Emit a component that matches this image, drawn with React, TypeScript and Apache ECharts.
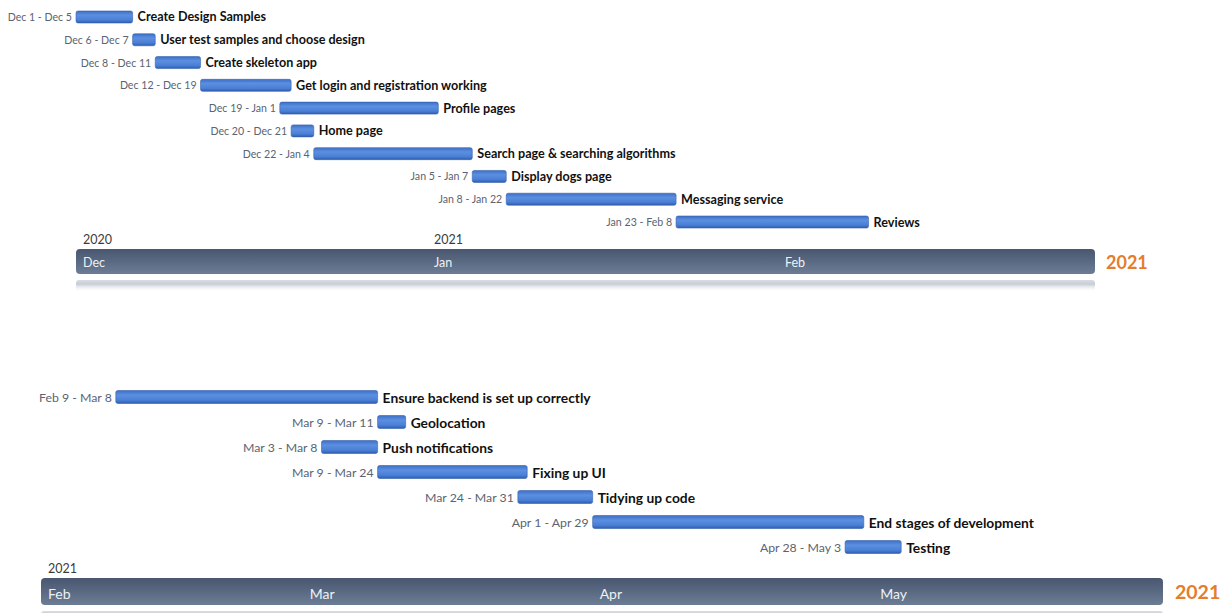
import React, { useEffect, useRef } from "react";
import * as echarts from "echarts";

// ---------- Data ----------
const topTasks = [
  "Create Design Samples",
  "User test samples and choose design",
  "Create skeleton app",
  "Get login and registration working",
  "Profile pages",
  "Home page",
  "Search page & searching algorithms",
  "Display dogs page",
  "Messaging service",
  "Reviews",
];
const topStarts = [
  "2020-12-01", "2020-12-06", "2020-12-08", "2020-12-12", "2020-12-19",
  "2020-12-20", "2020-12-22", "2021-01-05", "2021-01-08", "2021-01-23",
];
const topEnds = [
  "2020-12-05", "2020-12-07", "2020-12-11", "2020-12-19", "2021-01-01",
  "2020-12-21", "2021-01-04", "2021-01-07", "2021-01-22", "2021-02-08",
];
const topRange = ["2020-12-01", "2021-03-01"];
const topMonthTicks = ["2020-12-01", "2021-01-01", "2021-02-01"];
const topYearTicks = ["2020-12-01", "2021-01-01"];

const bottomTasks = [
  "Ensure backend is set up correctly",
  "Geolocation",
  "Push notifications",
  "Fixing up UI",
  "Tidying up code",
  "End stages of development",
  "Testing",
];
const bottomStarts = [
  "2021-02-09", "2021-03-09", "2021-03-03", "2021-03-09", "2021-03-24",
  "2021-04-01", "2021-04-28",
];
const bottomEnds = [
  "2021-03-08", "2021-03-11", "2021-03-08", "2021-03-24", "2021-03-31",
  "2021-04-29", "2021-05-03",
];
const bottomRange = ["2021-02-01", "2021-06-01"];
const bottomMonthTicks = ["2021-02-01", "2021-03-01", "2021-04-01", "2021-05-01"];
const bottomYearTicks = ["2021-02-01"];

const yearBadge = "2021";

// ---------- Helpers ----------
const MONTHS = ["Jan", "Feb", "Mar", "Apr", "May", "Jun", "Jul", "Aug", "Sep", "Oct", "Nov", "Dec"];
const ts = (s: string) => {
  const [y, m, d] = s.split("-").map(Number);
  return Date.UTC(y, m - 1, d);
};
const tsAfter = (s: string) => {
  const [y, m, d] = s.split("-").map(Number);
  return Date.UTC(y, m - 1, d + 1);
};
const short = (s: string) => {
  const [, m, d] = s.split("-").map(Number);
  return `${MONTHS[m - 1]} ${d}`;
};
const FONT = "Lato, 'Open Sans', sans-serif";

const barFill = new echarts.graphic.LinearGradient(0, 0, 0, 1, [
  { offset: 0, color: "#3e6fc6" },
  { offset: 0.35, color: "#5b8fe0" },
  { offset: 0.75, color: "#4a7fd6" },
  { offset: 1, color: "#2d5cae" },
]);
const bandFill = new echarts.graphic.LinearGradient(0, 0, 0, 1, [
  { offset: 0, color: "#49566f" },
  { offset: 1, color: "#6b7d95" },
]);
const reflFill = new echarts.graphic.LinearGradient(0, 0, 0, 1, [
  { offset: 0, color: "#d9dce2" },
  { offset: 0.35, color: "#c8cdd5" },
  { offset: 1, color: "rgba(255,255,255,0)" },
]);

function taskSeries(
  xIdx: number,
  yIdx: number,
  starts: string[],
  ends: string[],
  names: string[],
  barH: number,
  dateSize: number,
  nameSize: number
) {
  return {
    type: "custom",
    xAxisIndex: xIdx,
    yAxisIndex: yIdx,
    clip: false,
    z: 3,
    encode: { x: [1, 2], y: 0 },
    data: starts.map((s, i) => [i, ts(s), tsAfter(ends[i])]),
    renderItem: (params: any, api: any) => {
      const i = params.dataIndex;
      const idx = api.value(0);
      const p0 = api.coord([api.value(1), idx]);
      const p1 = api.coord([api.value(2), idx]);
      return {
        type: "group",
        children: [
          {
            type: "rect",
            shape: { x: p0[0], y: p0[1] - barH / 2, width: p1[0] - p0[0], height: barH, r: 2 },
            style: { fill: barFill, stroke: "#3661ad", lineWidth: 0.6 },
          },
          {
            type: "text",
            style: {
              text: `${short(starts[i])} - ${short(ends[i])}`,
              x: p0[0] - 4,
              y: p0[1],
              align: "right",
              verticalAlign: "middle",
              fill: "#5a6472",
              fontSize: dateSize,
              fontFamily: FONT,
            },
          },
          {
            type: "text",
            style: {
              text: names[i],
              x: p1[0] + 5,
              y: p0[1],
              align: "left",
              verticalAlign: "middle",
              fill: "#111111",
              fontSize: nameSize,
              fontWeight: "bold",
              fontFamily: FONT,
            },
          },
        ],
      };
    },
  };
}

function bandSeries(xIdx: number, yIdx: number, range: string[]) {
  return {
    type: "custom",
    xAxisIndex: xIdx,
    yAxisIndex: yIdx,
    clip: false,
    z: 1,
    encode: { x: [0, 1] },
    data: [[ts(range[0]), ts(range[1])]],
    renderItem: (_params: any, api: any) => {
      const p0 = api.coord([api.value(0), 1]);
      const p1 = api.coord([api.value(1), 0]);
      const w = p1[0] - p0[0];
      const h = p1[1] - p0[1];
      return {
        type: "group",
        children: [
          {
            type: "rect",
            shape: { x: p0[0], y: p0[1], width: w, height: h, r: 4 },
            style: { fill: bandFill },
          },
          {
            type: "rect",
            shape: { x: p0[0], y: p1[1] + 6, width: w, height: 12, r: 3 },
            style: { fill: reflFill },
          },
        ],
      };
    },
  };
}

function monthAxis(grid: number, range: string[], ticks: string[], size: number) {
  return {
    type: "value",
    gridIndex: grid,
    min: ts(range[0]),
    max: ts(range[1]),
    position: "bottom",
    z: 10,
    axisLine: { show: false },
    axisTick: { show: false },
    splitLine: { show: false },
    axisLabel: {
      inside: true,
      customValues: ticks.map(ts),
      showMinLabel: true,
      showMaxLabel: true,
      align: "left",
      verticalAlign: "middle",
      margin: 12,
      padding: [0, 0, 0, 7],
      color: "#eef1f5",
      fontSize: size,
      fontFamily: FONT,
      formatter: (v: number) => MONTHS[new Date(v).getUTCMonth()],
    },
  };
}

function yearAxis(grid: number, range: string[], ticks: string[]) {
  return {
    type: "value",
    gridIndex: grid,
    min: ts(range[0]),
    max: ts(range[1]),
    position: "top",
    axisLine: { show: false },
    axisTick: { show: false },
    splitLine: { show: false },
    axisLabel: {
      customValues: ticks.map(ts),
      showMinLabel: true,
      align: "left",
      margin: 3,
      padding: [0, 0, 0, 7],
      color: "#3c3c3c",
      fontSize: 12.5,
      fontFamily: FONT,
      formatter: (v: number) => String(new Date(v).getUTCFullYear()),
    },
  };
}

const hiddenX = (grid: number, range: string[]) => ({
  type: "value",
  gridIndex: grid,
  min: ts(range[0]),
  max: ts(range[1]),
  show: false,
});

export default function App() {
  const ref = useRef<HTMLDivElement>(null);
  useEffect(() => {
    if (!ref.current) return;
    const chart = echarts.init(ref.current, undefined, { renderer: "svg" });
    const option: any = {
      animation: false,
      backgroundColor: "#ffffff",
      grid: [
        { left: 76, top: 5.6, width: 1019, height: 227.8 },
        { left: 76, top: 249, width: 1019, height: 25 },
        { left: 41, top: 384.5, width: 1122, height: 175 },
        { left: 41, top: 578, width: 1122, height: 27 },
      ],
      xAxis: [
        hiddenX(0, topRange),
        monthAxis(1, topRange, topMonthTicks, 12.5),
        yearAxis(1, topRange, topYearTicks),
        hiddenX(2, bottomRange),
        monthAxis(3, bottomRange, bottomMonthTicks, 14),
        yearAxis(3, bottomRange, bottomYearTicks),
      ],
      yAxis: [
        { type: "category", gridIndex: 0, data: topTasks, inverse: true, show: false },
        { type: "value", gridIndex: 1, min: 0, max: 1, show: false },
        { type: "category", gridIndex: 2, data: bottomTasks, inverse: true, show: false },
        { type: "value", gridIndex: 3, min: 0, max: 1, show: false },
      ],
      series: [
        taskSeries(0, 0, topStarts, topEnds, topTasks, 12, 10.6, 12.6),
        bandSeries(1, 1, topRange),
        taskSeries(3, 2, bottomStarts, bottomEnds, bottomTasks, 13, 12.3, 13.8),
        bandSeries(4, 3, bottomRange),
      ],
      graphic: [
        {
          type: "text",
          left: 1106,
          top: 253,
          style: { text: yearBadge, fill: "#e47d2c", fontSize: 18, fontWeight: "bold", fontFamily: FONT },
        },
        {
          type: "text",
          left: 1175,
          top: 581,
          style: { text: yearBadge, fill: "#e47d2c", fontSize: 19.5, fontWeight: "bold", fontFamily: FONT },
        },
      ],
    };
    chart.setOption(option);
    return () => chart.dispose();
  }, []);
  return (
    <div
      ref={ref}
      style={{ position: "fixed", left: 0, top: 0, width: 1226, height: 613, background: "#fff" }}
    />
  );
}
